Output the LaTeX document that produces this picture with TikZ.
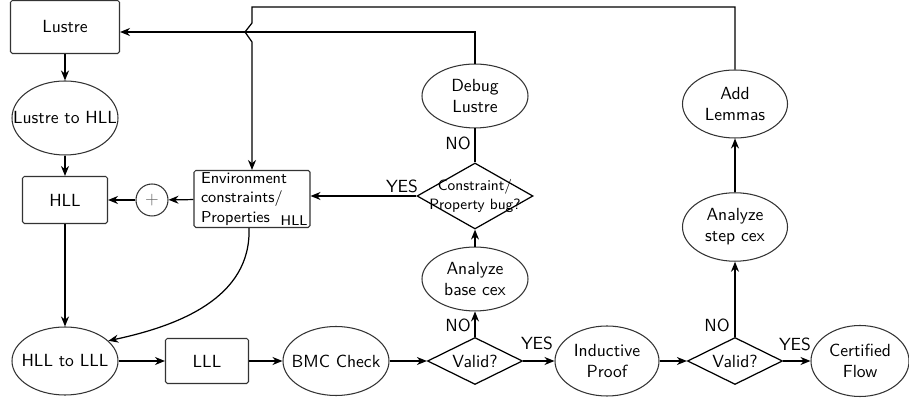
\documentclass[tikz,border=0pt]{standalone}
\usetikzlibrary{shapes.geometric}
\usetikzlibrary{arrows.meta}
\renewcommand{\familydefault}{\sfdefault}

\begin{document}
\begin{tikzpicture}
[x=0.2mm,y=-0.2mm,%
  flow/.style={-{Stealth[length=2mm,width=1.6mm]},line width=0.7pt},%
  plain/.style={line width=0.7pt},%
  block/.style={rectangle,draw=black!80,line width=0.6pt,rounded corners=1pt},%
  stage/.style={ellipse,draw=black!80,line width=0.6pt,align=center,%
    inner xsep=-0.3cm,minimum width=2.12cm},%
  decision/.style={diamond,draw=black,line width=0.7pt,aspect=2,inner sep=0pt,%
    minimum width=1.9cm,minimum height=0.94cm},%
  answer/.style={inner sep=1pt}]
\useasboundingbox (0,0) rectangle (909,401);
% left column
\node[block,minimum width=2.18cm,minimum height=1.06cm] (lustre) at (65,27) {Lustre};
\node[stage,minimum height=1.48cm] (l2h) at (65,118) {Lustre to HLL};
\node[block,minimum width=1.7cm,minimum height=0.94cm] (hll) at (65,200) {HLL};
\node[circle,draw=black!80,line width=0.6pt,minimum size=0.64cm,inner sep=0pt,text=black!60] (plus) at (152,200) {$+$};
\node[block,font=\small,align=left,text width=2.04cm,inner xsep=0.14cm,inner ysep=0.5pt,%
  minimum height=1.14cm,%
  label={[font=\footnotesize,anchor=south east,inner sep=1.5pt]south east:HLL}] (env) at (252,199)
  {Environment\\constraints/\\Properties};
% bottom row
\node[stage,minimum height=1.36cm] (h2l) at (65,361) {HLL to LLL};
\node[block,minimum width=1.66cm,minimum height=0.9cm] (lll) at (207,361) {LLL};
\node[stage,minimum height=1.38cm] (bmc) at (336,361) {BMC Check};
\node[decision] (valid1) at (475,361) {Valid?};
\node[stage,minimum width=2.08cm,minimum height=1.4cm] (ind) at (607,361) {Inductive\\Proof};
\node[decision] (valid2) at (735,361) {Valid?};
\node[stage,minimum width=1.96cm,minimum height=1.42cm] (cert) at (860,361) {Certified\\Flow};
% base case column
\node[stage,minimum height=1.16cm] (base) at (475,279) {Analyze\\base cex};
\node[decision,minimum width=2.32cm,minimum height=1.32cm,%
  label={[font=\fontsize{8.5}{10.5}\selectfont,align=center]center:Constraint/\\Property bug?}] (bug) at (475,196) {};
\node[stage,minimum height=1.14cm] (debug) at (475,96) {Debug\\Lustre};
% step case column
\node[stage,minimum width=2.1cm,minimum height=1.36cm] (step) at (735,227) {Analyze\\step cex};
\node[stage,minimum width=2.1cm,minimum height=1.36cm] (lemmas) at (735,104) {Add\\Lemmas};
% answers
\node[answer] (yesbug) at (402,186) {YES};
\node[answer] (nobug) at (458,143) {NO};
\node[answer] (nobase) at (458,325) {NO};
\node[answer] (yesbase) at (537,343) {YES};
\node[answer] (nostep) at (717,325) {NO};
\node[answer] (yesstep) at (795,344) {YES};
% jump over the Lustre line
\coordinate (corner) at (252,7);
\coordinate (jogtop) at (252,23);
\coordinate (jogmid) at (245,32);
\coordinate (jogbot) at (252,42);

\draw[flow] (lustre) -- (l2h);
\draw[flow] (l2h) -- (hll);
\draw[flow] (hll) -- (h2l);
\draw[flow] (env) -- (plus);
\draw[flow] (plus) -- (hll);
\draw[flow] (h2l) -- (lll);
\draw[flow] (lll) -- (bmc);
\draw[flow] (bmc) -- (valid1);
\draw[flow] (valid1) -- (ind);
\draw[flow] (ind) -- (valid2);
\draw[flow] (valid2) -- (cert);
\draw[flow] (valid1) -- (base);
\draw[flow] (base) -- (bug);
\draw[flow] (bug.west) -- (bug.west -| env.east);
\draw[plain] (bug) -- (debug);
\draw[flow] (debug.north) |- ([yshift=-1mm]lustre.east);
\draw[flow] (valid2) -- (step);
\draw[flow] (step) -- (lemmas);
\draw[flow] (lemmas.north) |- (corner) -- (jogtop) -- (jogmid) -- (jogbot) -- (env.north);
\draw[flow] ([xshift=-0.6mm]env.south) to[out=-88,in=12] (h2l.25);
\end{tikzpicture}
\end{document}
